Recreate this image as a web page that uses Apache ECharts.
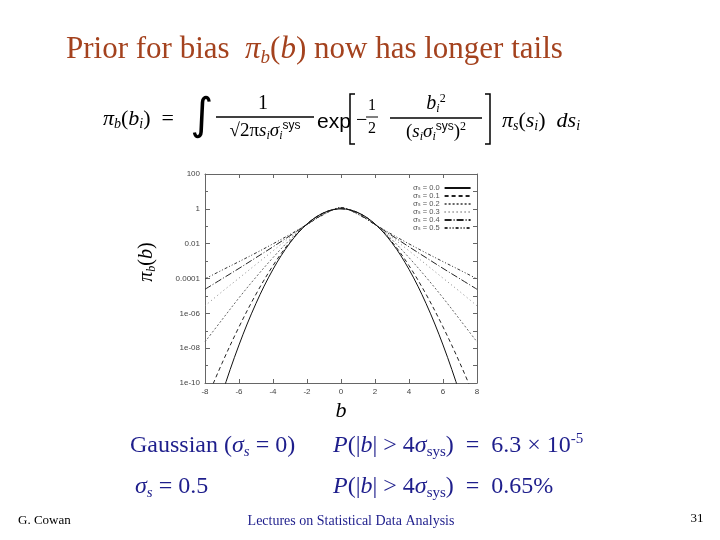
<!DOCTYPE html>
<html><head><meta charset="utf-8">
<script src="https://cdn.jsdelivr.net/npm/echarts@6/dist/echarts.min.js"></script>
<style>html,body{margin:0;padding:0;background:#fff}#c{width:720px;height:540px}</style>
</head><body><div id="c"></div>
<script>
// ---- data ----
const bValues = [-8,-7,-6,-5,-4,-3,-2,-1,0,1,2,3,4,5,6,7,8];
const sigmaLabels = ['0.0','0.1','0.2','0.3','0.4','0.5'];
const prior_s00 = [1.26e-14,2.29e-11,1.53e-8,3.73e-6,3.35e-4,0.0111,0.135,0.607,1.0,0.607,0.135,0.0111,3.35e-4,3.73e-6,1.53e-8,2.29e-11,1.26e-14];
const prior_s01 = [7.08e-12,1.35e-9,1.66e-7,1.26e-5,5.50e-4,0.0126,0.134,0.600,1.01,0.600,0.134,0.0126,5.50e-4,1.26e-5,1.66e-7,1.35e-9,7.08e-12];
const prior_s02 = [2.29e-8,4.27e-7,7.76e-6,1.20e-4,1.58e-3,0.0170,0.132,0.582,1.035,0.582,0.132,0.0170,1.58e-3,1.20e-4,7.76e-6,4.27e-7,2.29e-8];
const prior_s03 = [2.69e-6,1.74e-5,1.05e-4,6.46e-4,3.89e-3,0.0234,0.129,0.550,1.07,0.550,0.129,0.0234,3.89e-3,6.46e-4,1.05e-4,1.74e-5,2.69e-6];
const prior_s04 = [2.40e-5,9.55e-5,3.80e-4,1.58e-3,6.61e-3,0.0288,0.126,0.513,1.12,0.513,0.126,0.0288,6.61e-3,1.58e-3,3.80e-4,9.55e-5,2.40e-5];
const prior_s05 = [9.55e-5,3.02e-4,9.33e-4,2.95e-3,9.77e-3,0.0339,0.126,0.479,1.20,0.479,0.126,0.0339,9.77e-3,2.95e-3,9.33e-4,3.02e-4,9.55e-5];
const xTicks = [-8,-6,-4,-2,0,2,4,6,8];
const yTickExponents = [-10,-8,-6,-4,-2,0,2];
const yTickLabels = ['1e-10','1e-08','1e-06','0.0001','0.01','1','100'];

// ---- styles ----
const allSeries = [prior_s00,prior_s01,prior_s02,prior_s03,prior_s04,prior_s05];
const dashes = ['solid',[4,3],[2,2],[1,3],[7,2,1,2],[3,2,1,2,1,2]];
const colors = ['#111','#222','#666','#888','#222','#333'];

const series = allSeries.map((vals,i)=>({
  name: 'σs = ' + sigmaLabels[i],
  type: 'line',
  xAxisIndex: 0, yAxisIndex: 0,
  data: bValues.map((b,j)=>[b, vals[j]]),
  symbol: 'none', showSymbol: false,
  smooth: 0.35,
  clip: true,
  lineStyle: {color: colors[i], width: 1, type: dashes[i]},
  itemStyle: {color: colors[i]},
  z: 10 - i,
  animation: false
}));

const SERIF = 'Liberation Serif';
const NAVY = '#1e1e8c';
function rt(size, color){
  return {
    n:{fontFamily:SERIF,fontSize:size,fill:color},
    i:{fontFamily:SERIF,fontSize:size,fontStyle:'italic',fill:color},
    g:{fontFamily:SERIF,fontSize:size,fontStyle:'italic',fill:color},
    s:{fontFamily:SERIF,fontSize:Math.round(size*0.62),fontStyle:'italic',fill:color,padding:[Math.round(size*0.5),0,0,0]},
    sn:{fontFamily:SERIF,fontSize:Math.round(size*0.62),fill:color,padding:[Math.round(size*0.5),0,0,0]},
    p:{fontFamily:SERIF,fontSize:Math.round(size*0.62),fill:color,padding:[0,0,Math.round(size*0.55),0]},
    ps:{fontFamily:'Liberation Sans',fontSize:Math.round(size*0.62),fill:color,padding:[0,0,Math.round(size*0.55),0]}
  };
}
function txt(x,y,text,size,color,align,extra){
  return Object.assign({type:'text', x:x, y:y, silent:true, style:{
    text:text, rich:rt(size,color), fill:color, fontFamily:SERIF, fontSize:size,
    textAlign:align||'left', textVerticalAlign:'middle'}}, extra||{});
}
function hline(x1,x2,y,w){
  return {type:'line', silent:true, shape:{x1:x1,y1:y,x2:x2,y2:y}, style:{stroke:'#000',lineWidth:w||1.3}};
}
function bracket(pts){
  return {type:'polyline', silent:true, shape:{points:pts}, style:{stroke:'#000',lineWidth:1.5,fill:null}};
}

const graphics = [
  // title
  txt(66,50,'{n|Prior for bias  }{g|π}{s|b}{n|(}{g|b}{n|) now has longer tails}',31,'#a4421e','left'),
  // formula
  txt(103,119,'{g|π}{s|b}{n|(}{g|b}{s|i}{n|)  =}',22,'#000','left'),
  {type:'text', x:202, y:118, silent:true, style:{text:'∫', fontFamily:'DejaVu Sans', fontSize:44, fill:'#000', textAlign:'center', textVerticalAlign:'middle'}},
  txt(263,104,'{n|1}',20,'#000','center'),
  hline(216,314,117),
  txt(265,131,'{n|√}{n|2π}{g|s}{s|i}{g|σ}{s|i}{ps|sys}',19,'#000','center'),
  {type:'text', x:317, y:122, silent:true, style:{text:'exp', fontFamily:'Liberation Sans', fontSize:21, fill:'#000', textAlign:'left', textVerticalAlign:'middle'}},
  bracket([[355,94],[350,94],[350,144],[355,144]]),
  txt(356,121,'{n|−}',20,'#000','left'),
  txt(372,106,'{n|1}',16,'#000','center'),
  hline(366,378,117,1),
  txt(372,129,'{n|2}',16,'#000','center'),
  txt(436,104,'{g|b}{s|i}{p|2}',20,'#000','center'),
  hline(390,482,118),
  txt(436,132,'{n|(}{g|s}{s|i}{g|σ}{s|i}{ps|sys}{n|)}{p|2}',19,'#000','center'),
  bracket([[485,94],[490,94],[490,144],[485,144]]),
  txt(502,121,'{g|π}{s|s}{n|(}{g|s}{s|i}{n|)  }{g|ds}{s|i}',22,'#000','left'),
  // axis titles
  txt(147,262,'{g|π}{s|b}{n|(}{g|b}{n|)}',20,'#000','center',{rotation:Math.PI/2}),
  txt(341,411,'{g|b}',22,'#000','center'),
  // bottom text
  txt(130,446,'{n|Gaussian (}{g|σ}{s|s}{n| = 0)}',24,NAVY,'left'),
  txt(333,446,'{i|P}{n|(|}{i|b}{n|| > 4}{g|σ}{sn|sys}{n|)  =  6.3 × 10}{p|-5}',24,NAVY,'left'),
  txt(135,487,'{g|σ}{s|s}{n| = 0.5}',24,NAVY,'left'),
  txt(333,487,'{i|P}{n|(|}{i|b}{n|| > 4}{g|σ}{sn|sys}{n|)  =  0.65%}',24,NAVY,'left'),
  txt(18,521,'{n|G. Cowan}',13,'#000','left'),
  txt(351,521,'{n|Lectures on Statistical Data Analysis}',14,NAVY,'center'),
  txt(697,519,'{n|31}',13,'#000','center')
];

const frameColor = '#666';
const option = {
  backgroundColor: '#fff',
  animation: false,
  grid: {left:205, top:174, width:272, height:209, containLabel:false},
  legend: {
    orient:'vertical', left:408, top:179, align:'right',
    itemWidth:26, itemHeight:6, itemGap:0,
    data: series.map(s=>s.name),
    itemStyle:{opacity:0},
    formatter: n => '{g|σ}{s|s}{t|' + n.slice(2) + '}',
    textStyle:{fontSize:7.5, color:'#555', fontFamily:'Liberation Sans', lineHeight:7.5,
      rich:{g:{fontSize:7.5,fontFamily:'DejaVu Serif',color:'#555',lineHeight:7.5},
            s:{fontSize:5,color:'#555',padding:[2,0,0,0],lineHeight:5.5},
            t:{fontSize:7.5,color:'#555',fontFamily:'Liberation Sans',lineHeight:7.5}}},
    selectedMode:false
  },
  xAxis: [
    {type:'value', min:-8, max:8, interval:2, position:'bottom',
     axisLine:{show:true,onZero:false,lineStyle:{color:frameColor}},
     axisTick:{show:true,inside:true,length:4,lineStyle:{color:frameColor}},
     axisLabel:{fontSize:8,color:'#444',fontFamily:'Liberation Sans',margin:5,
       formatter:v=> xTicks.indexOf(v)>=0 ? String(v) : ''},
     splitLine:{show:false}},
    {type:'value', min:-8, max:8, interval:2, position:'top',
     axisLine:{show:true,onZero:false,lineStyle:{color:frameColor}},
     axisTick:{show:true,inside:true,length:4,lineStyle:{color:frameColor}},
     axisLabel:{show:false}, splitLine:{show:false}}
  ],
  yAxis: [
    {type:'log', logBase:100, min:1e-10, max:100, splitNumber:6, position:'left',
     axisLine:{show:true,onZero:false,lineStyle:{color:frameColor}},
     axisTick:{show:true,inside:true,length:5,lineStyle:{color:frameColor}},
     axisLabel:{fontSize:8,color:'#444',fontFamily:'Liberation Sans',margin:5,
       formatter:v=>{const e=Math.round(Math.log10(v)); const k=yTickExponents.indexOf(e); return k<0?'':yTickLabels[k];}},
     splitLine:{show:false}},
    {type:'value', min:-10, max:2, interval:1, position:'right',
     axisLine:{show:true,onZero:false,lineStyle:{color:frameColor}},
     axisTick:{show:true,inside:true,length:4,lineStyle:{color:frameColor}},
     axisLabel:{show:false}, splitLine:{show:false}},
    {type:'value', min:-10, max:2, interval:1, position:'left', offset:0,
     axisLine:{show:false,onZero:false},
     axisTick:{show:true,inside:true,length:3,lineStyle:{color:frameColor}},
     axisLabel:{show:false}, splitLine:{show:false}}
  ],
  series: series,
  graphic: graphics
};
const chart = echarts.init(document.getElementById('c'));
chart.setOption(option);
</script>
</body></html>
